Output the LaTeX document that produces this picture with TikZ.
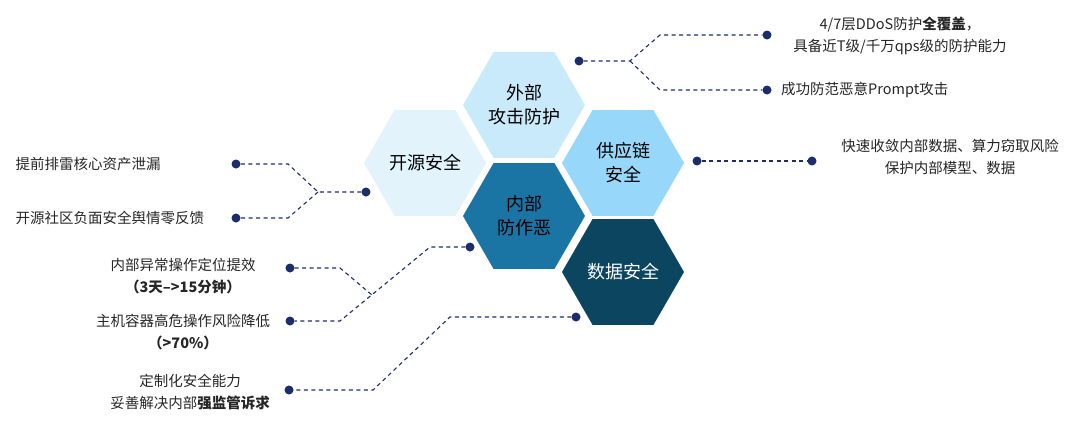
\documentclass[tikz,border=0pt]{standalone}
\usepackage{fontspec}
\setmainfont{Noto Sans CJK SC}
\usetikzlibrary{shapes.geometric, positioning}
\definecolor{hexA}{HTML}{E3F3FC}
\definecolor{hexB}{HTML}{C9EAFB}
\definecolor{hexC}{HTML}{97D8FA}
\definecolor{hexD}{HTML}{1A74A4}
\definecolor{hexE}{HTML}{0C4560}
\definecolor{navy}{HTML}{1B2E6B}
\tikzset{hexa/.style={regular polygon, regular polygon sides=6, minimum size=122pt,
    inner sep=0pt, align=center, font=\fontsize{18}{24}\selectfont},
  dot/.style={circle, fill=navy, minimum size=9pt, inner sep=0pt},
  link/.style={draw=navy, dash pattern=on 4pt off 3.5pt, line width=1.1pt},
  info/.style={font=\fontsize{14.5}{22}\selectfont, text=black!85}}
\begin{document}
\begin{tikzpicture}[x=1pt, y=-1pt]
    \useasboundingbox (0,0) rectangle (1080,434);
    \node [hexa, fill=hexA] (open) at (425,163) {开源安全};
    \node [hexa, fill=hexB] (ext) at (524,105) {外部\\攻击防护};
    \node [hexa, fill=hexC] (supply) at (623,163) {供应链\\安全};
    \node [hexa, fill=hexD] (inner) at (524,216) {内部\\防作恶};
    \node [hexa, fill=hexE, text=white] (data) at (623,272) {数据安全};

    % outer attack
    \node [dot] (d-ext) at (579,61) {};
    \node [dot] (d-ddos) at (767,35) {};
    \node [dot] (d-prompt) at (767,90) {};
    \coordinate (j-ext) at (630,61);
    \path [link] (d-ext) -- (j-ext) -- (660,35) -- (d-ddos);
    \path [link] (j-ext) -- (660,90) -- (d-prompt);
    \node [info, align=center] (t-ddos) at (900,36) {4/7层DDoS防护\textbf{全覆盖}，\\具备近T级/千万qps级的防护能力};
    \node [info, right=6pt of d-prompt] (t-prompt) {成功防范恶意Prompt攻击};

    % supply chain
    \node [dot] (d-sup) at (697,161) {};
    \node [dot] (d-leak) at (812,161) {};
    \path [link] (d-sup) -- (d-leak);
    \node [info, align=center] (t-sup) at (950,157) {快速收敛内部数据、算力窃取风险\\保护内部模型、数据};

    % open source
    \node [dot] (d-open) at (366,192) {};
    \node [dot] (d-asset) at (236,164) {};
    \node [dot] (d-zero) at (236,218) {};
    \coordinate (j-open) at (318,192);
    \path [link] (d-open) -- (j-open) -- (288,164) -- (d-asset);
    \path [link] (j-open) -- (288,218) -- (d-zero);
    \node [info, anchor=west] (t-asset) at (12,164) {提前排雷核心资产泄漏};
    \node [info, anchor=west] (t-zero) at (12,218) {开源社区负面安全舆情零反馈};

    % inner
    \node [dot] (d-inner) at (470,247) {};
    \node [dot] (d-locate) at (290,268) {};
    \node [dot] (d-host) at (290,321) {};
    \path [link] (d-inner) -- (430,247) -- (340,321) -- (d-host);
    \path [link] (d-locate) -- (340,268) -- (372,295);
    \node [info, align=center] (t-locate) at (183,276) {内部异常操作定位提效\\\textbf{（3天–>15分钟）}};
    \node [info, align=center] (t-host) at (183,332) {主机容器高危操作风险降低\\\textbf{（>70\%）}};

    % data
    \node [dot] (d-data) at (576,317) {};
    \node [dot] (d-reg) at (289,390) {};
    \path [link] (d-data) -- (450,317) -- (373,390) -- (d-reg);
    \node [info, align=center] (t-reg) at (190,392) {定制化安全能力\\妥善解决内部\textbf{强监管诉求}};
\end{tikzpicture}
\end{document}
